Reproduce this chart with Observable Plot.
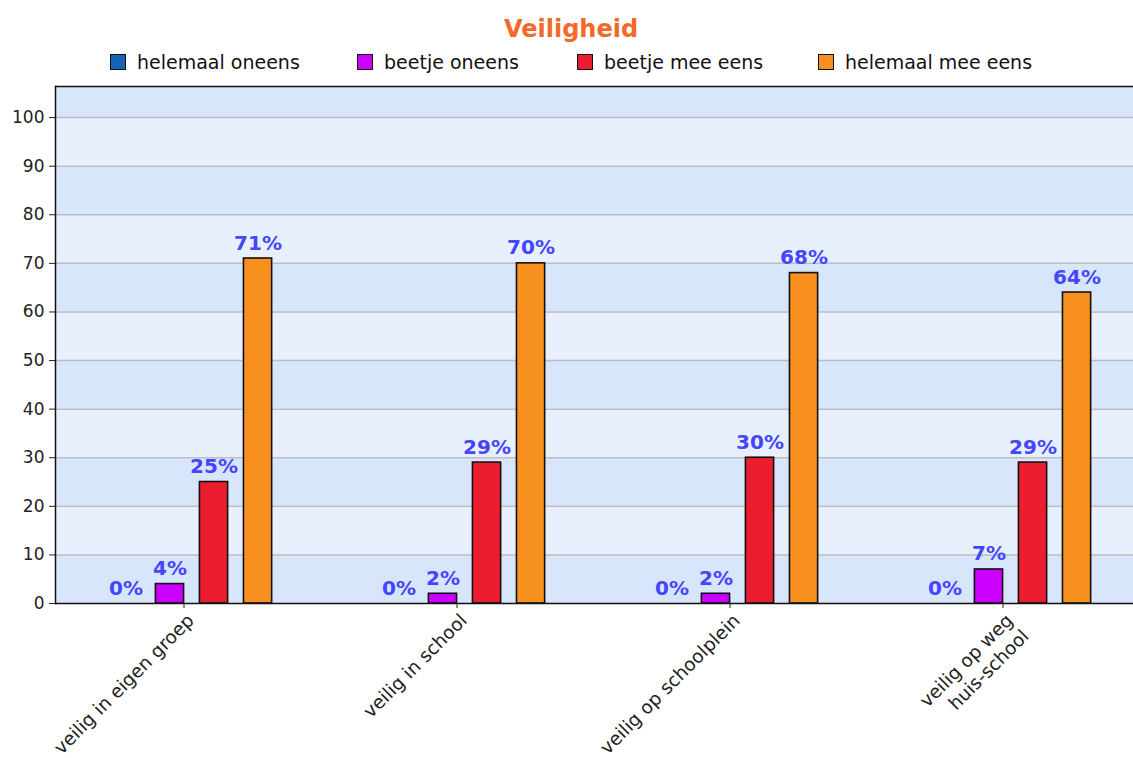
<!DOCTYPE html>
<html>
<head>
<meta charset="utf-8">
<script src="https://cdn.jsdelivr.net/npm/d3@7"></script>
<script src="https://cdn.jsdelivr.net/npm/@observablehq/plot@0.6"></script>
<style>
  html, body { margin: 0; padding: 0; background: #fff; }
  body { width: 1133px; height: 758px; overflow: hidden; font-family: "DejaVu Sans", sans-serif; }
  #header { height: 80px; position: relative; }
  #title { position: absolute; left: 0; width: 1142px; top: 15px; text-align: center; font-weight: bold; font-size: 24px; color: #f2692a; }
  #legend { position: absolute; left: 0; top: 51px; width: 1133px; height: 24px; font-size: 19px; color: #111; }
  .item { position: absolute; top: 0; display: flex; align-items: center; white-space: nowrap; }
  .item:nth-child(1) { left: 110px; }
  .item:nth-child(2) { left: 357px; }
  .item:nth-child(3) { left: 577px; }
  .item:nth-child(4) { left: 818px; }
  .sw { width: 14px; height: 14px; border: 1px solid #111; margin-right: 11px; }
  #chart { width: 1133px; overflow: hidden; }
</style>
</head>
<body>
<div id="header"><div id="title"></div><div id="legend"></div></div>
<div id="chart"></div>
<script>
const title = "Veiligheid";
const categories = ["veilig in eigen groep", "veilig in school", "veilig op schoolplein", "veilig op weg\nhuis-school"];
const series = ["helemaal oneens", "beetje oneens", "beetje mee eens", "helemaal mee eens"];
const colors = ["#1565b4", "#cc00ff", "#ec1d2e", "#f7901f"];
const helemaalOneens = [0, 0, 0, 0];
const beetjeOneens = [4, 2, 2, 7];
const beetjeMeeEens = [25, 29, 30, 29];
const helemaalMeeEens = [71, 70, 68, 64];
const yTicks = [0, 10, 20, 30, 40, 50, 60, 70, 80, 90, 100];
const yMax = 106.4;

const seriesValues = [helemaalOneens, beetjeOneens, beetjeMeeEens, helemaalMeeEens];
const rows = [];
categories.forEach((cat, i) => series.forEach((ser, j) => rows.push({cat, ser, val: seriesValues[j][i]})));

const bandEdges = [...yTicks, yMax];
const bands = bandEdges.slice(0, -1).map((y1, k) => ({y1, y2: bandEdges[k + 1], dark: k % 2 === 0}));

document.getElementById("title").textContent = title;
const legend = document.getElementById("legend");
series.forEach((s, j) => {
  const it = document.createElement("div");
  it.className = "item";
  const sw = document.createElement("div");
  sw.className = "sw";
  sw.style.background = colors[j];
  const tx = document.createElement("span");
  tx.textContent = s;
  it.append(sw, tx);
  legend.append(it);
});

const chart = Plot.plot({
  width: 1133,
  height: 678,
  marginTop: 6,
  marginLeft: 55,
  marginRight: -14,
  marginBottom: 155,
  style: {fontFamily: "DejaVu Sans, sans-serif", background: "white"},
  fx: {domain: categories, padding: 0, round: false},
  x: {domain: series, paddingInner: 0.36, paddingOuter: 1.28, round: false, axis: null},
  y: {domain: [0, yMax]},
  color: {domain: series, range: colors},
  marks: [
    Plot.rectY(bands.filter(d => d.dark), {y1: "y1", y2: "y2", fill: "#d8e6fc"}),
    Plot.rectY(bands.filter(d => !d.dark), {y1: "y1", y2: "y2", fill: "#e8f0fd"}),
    Plot.ruleY(yTicks.filter(d => d > 0), {stroke: "#bdbdbd", strokeWidth: 1.5}),
    Plot.barY(rows, {fx: "cat", x: "ser", y: "val", fill: "ser", stroke: "#111", strokeWidth: 1.6}),
    Plot.text(rows, {fx: "cat", x: "ser", y: "val", text: d => d.val + "%", lineAnchor: "bottom", dy: -9,
      fill: "#4545ff", fontWeight: "bold", fontSize: 20}),
    Plot.ruleY([0], {stroke: "#111", strokeWidth: 1.5}),
    Plot.ruleY([yMax], {stroke: "#111", strokeWidth: 1.5}),
    Plot.frame({anchor: "left", facetAnchor: "left", stroke: "#111", strokeWidth: 1.5}),
    Plot.axisY({ticks: yTicks, tickSize: 6, tickPadding: 5, fontSize: 17, label: null, color: "#222"}),
    Plot.axisFx({anchor: "bottom", tickSize: 5, tickPadding: 2, dx: -8, tickRotate: -45, lineAnchor: "top", lineHeight: 1.2,
      fontSize: 18.5, label: null, color: "#222"})
  ]
});
document.getElementById("chart").append(chart);
</script>
</body>
</html>
